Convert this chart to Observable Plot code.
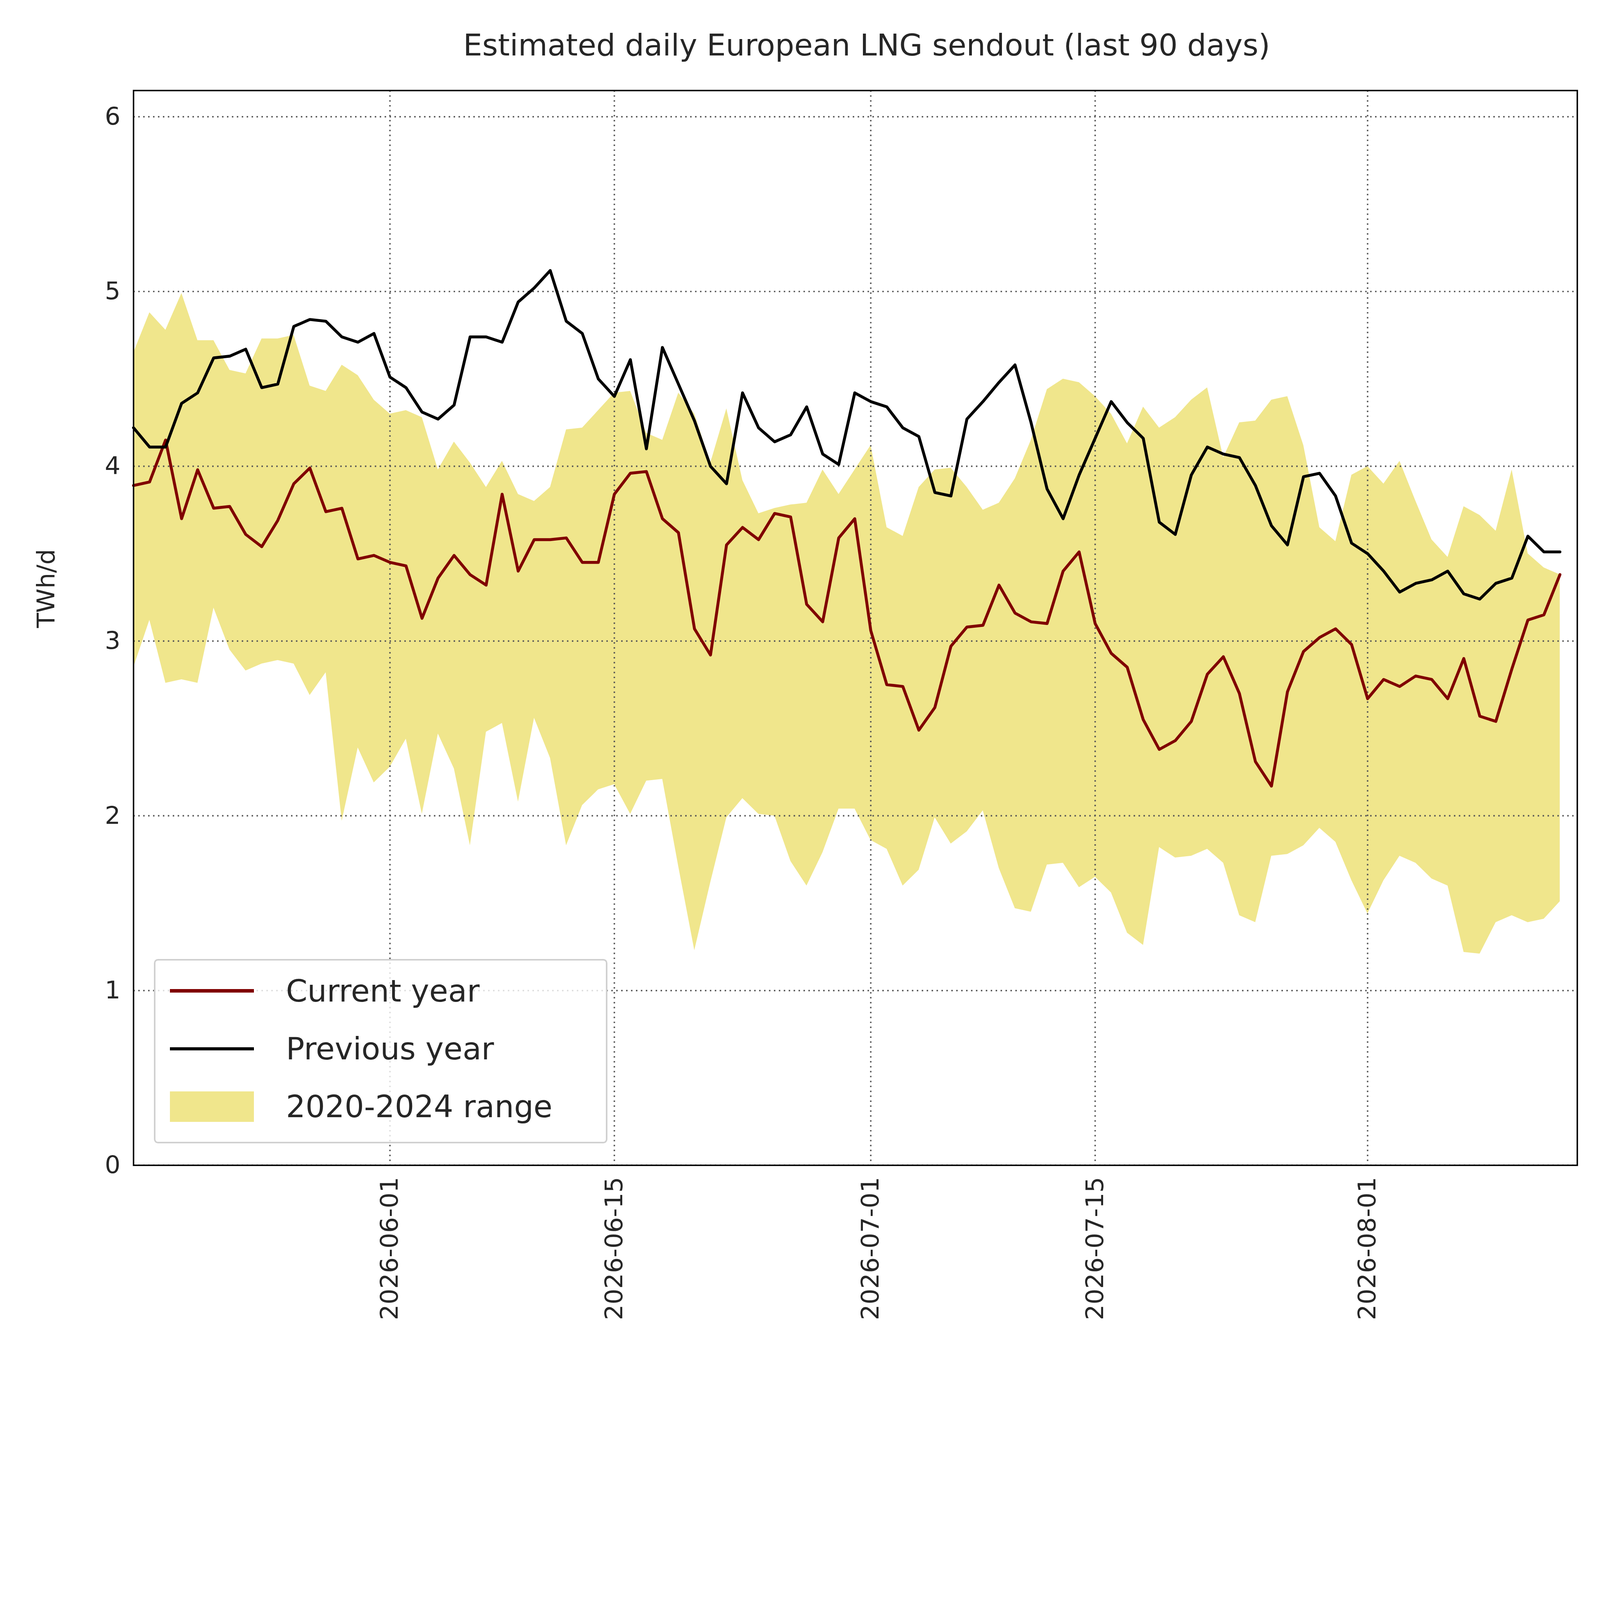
<!DOCTYPE html>
<html><head><meta charset="utf-8">
<script src="https://cdn.jsdelivr.net/npm/d3@7"></script>
<script src="https://cdn.jsdelivr.net/npm/@observablehq/plot@0.6"></script>
<style>
html,body{margin:0;background:#fff;font-family:"DejaVu Sans",sans-serif;overflow:hidden;}
#wrap{position:relative;}
#title{text-align:center;color:#262626;box-sizing:border-box;}
#legend{position:absolute;border-style:solid;border-color:#d0d0d0;background:rgba(255,255,255,0.8);box-sizing:border-box;color:#262626;}
.row{position:absolute;display:flex;align-items:center;}
</style></head><body>
<div id="wrap"><div id="title">Estimated daily European LNG sendout (last 90 days)</div><div id="chart"></div>
<div id="legend">
<div class="row"><div class="sw" style="background:#800000"></div>Current year</div>
<div class="row"><div class="sw" style="background:#000"></div>Previous year</div>
<div class="row"><div class="sw" style="background:#F0E68C"></div>2020-2024 range</div>
</div></div>
<script>
const startDate = "2026-05-16";
const current = [3.89,3.91,4.15,3.70,3.98,3.76,3.77,3.61,3.54,3.69,3.90,3.99,3.74,3.76,3.47,3.49,3.45,3.43,3.13,3.36,3.49,3.38,3.32,3.84,3.40,3.58,3.58,3.59,3.45,3.45,3.84,3.96,3.97,3.70,3.62,3.07,2.92,3.55,3.65,3.58,3.73,3.71,3.21,3.11,3.59,3.70,3.06,2.75,2.74,2.49,2.62,2.97,3.08,3.09,3.32,3.16,3.11,3.10,3.40,3.51,3.10,2.93,2.85,2.55,2.38,2.43,2.54,2.81,2.91,2.70,2.31,2.17,2.71,2.94,3.02,3.07,2.98,2.67,2.78,2.74,2.80,2.78,2.67,2.90,2.57,2.54,2.84,3.12,3.15,3.38];
const previous = [4.22,4.11,4.11,4.36,4.42,4.62,4.63,4.67,4.45,4.47,4.80,4.84,4.83,4.74,4.71,4.76,4.51,4.45,4.31,4.27,4.35,4.74,4.74,4.71,4.94,5.02,5.12,4.83,4.76,4.50,4.40,4.61,4.10,4.68,4.47,4.26,4.00,3.90,4.42,4.22,4.14,4.18,4.34,4.07,4.01,4.42,4.37,4.34,4.22,4.17,3.85,3.83,4.27,4.37,4.48,4.58,4.25,3.87,3.70,3.95,4.16,4.37,4.25,4.16,3.68,3.61,3.95,4.11,4.07,4.05,3.89,3.66,3.55,3.94,3.96,3.83,3.56,3.50,3.40,3.28,3.33,3.35,3.40,3.27,3.24,3.33,3.36,3.60,3.51,3.51];
const rangeHigh = [4.65,4.88,4.78,4.99,4.72,4.72,4.55,4.53,4.73,4.73,4.75,4.46,4.43,4.58,4.52,4.38,4.30,4.32,4.28,3.98,4.14,4.02,3.88,4.03,3.84,3.80,3.88,4.21,4.22,4.32,4.42,4.43,4.19,4.15,4.42,4.30,4.02,4.33,3.92,3.73,3.76,3.78,3.79,3.98,3.84,3.98,4.12,3.65,3.60,3.88,3.98,3.99,3.88,3.75,3.79,3.93,4.15,4.44,4.50,4.48,4.40,4.30,4.13,4.34,4.22,4.28,4.38,4.45,4.05,4.25,4.26,4.38,4.40,4.12,3.65,3.57,3.95,4.00,3.90,4.03,3.80,3.58,3.48,3.77,3.72,3.63,3.98,3.50,3.42,3.38];
const rangeLow = [2.85,3.12,2.76,2.78,2.76,3.19,2.95,2.83,2.87,2.89,2.87,2.69,2.82,1.97,2.39,2.19,2.28,2.44,2.01,2.47,2.27,1.83,2.48,2.53,2.08,2.56,2.33,1.83,2.06,2.15,2.18,2.01,2.20,2.21,1.71,1.23,1.62,1.99,2.10,2.01,2.00,1.74,1.60,1.79,2.04,2.04,1.86,1.81,1.60,1.69,1.99,1.84,1.91,2.03,1.70,1.47,1.45,1.72,1.73,1.59,1.65,1.56,1.33,1.26,1.82,1.76,1.77,1.81,1.73,1.43,1.39,1.77,1.78,1.83,1.93,1.85,1.63,1.44,1.63,1.77,1.73,1.64,1.60,1.22,1.21,1.39,1.43,1.39,1.41,1.51];
const xTicks = ["2026-06-01","2026-06-15","2026-07-01","2026-07-15","2026-08-01"];
const yTicks = [0,1,2,3,4,5,6];

// scale everything to the actual viewport (design basis 5520 x 4906)
const s = Math.min(window.innerWidth/5520, window.innerHeight/4906);
const px = v => v*s;
const titleEl = document.getElementById("title");
titleEl.style.height = px(250)+"px";
titleEl.style.lineHeight = px(310)+"px";
titleEl.style.fontSize = px(104)+"px";
titleEl.style.paddingLeft = px(460)+"px";
titleEl.style.width = px(5520)+"px";
const lg = document.getElementById("legend");
Object.assign(lg.style,{left:px(531)+"px", top:px(3308)+"px", width:px(1564)+"px", height:px(637)+"px",
  borderWidth:px(6)+"px", borderRadius:px(14)+"px", fontSize:px(106)+"px"});
const rows = lg.querySelectorAll(".row");
const swH = [11,11,105];
rows.forEach((r,i)=>{
  r.style.left = px(50)+"px"; r.style.top = px(40 + i*200)+"px"; r.style.height = px(130)+"px";
  const sw = r.querySelector(".sw");
  sw.style.width = px(290)+"px"; sw.style.height = px(swH[i])+"px"; sw.style.marginRight = px(110)+"px";
});

const t0 = new Date(startDate + "T00:00:00Z");
const data = current.map((v,i)=>({date:new Date(+t0 + i*864e5), cur:v, prev:previous[i], lo:rangeLow[i], hi:rangeHigh[i]}));
const tickDates = xTicks.map(d=>new Date(d+"T00:00:00Z"));
const grid = {stroke:"#555", strokeOpacity:1, strokeWidth:px(5), strokeDasharray:`${px(5)},${px(12)}`};
const chart = Plot.plot({
  width:px(5520), height:px(4656), marginTop:px(61), marginBottom:px(887), marginLeft:px(460), marginRight:px(79),
  style:{fontSize:px(85)+"px", fontFamily:"DejaVu Sans, sans-serif", color:"#262626", background:"#fff", maxWidth:"none"},
  x:{type:"utc", domain:[t0, new Date("2026-08-14T02:00:00Z")]},
  y:{domain:[0,6.15]},
  marks:[
    Plot.areaY(data,{x:"date", y1:"lo", y2:"hi", fill:"#F0E68C"}),
    Plot.gridX(tickDates, grid),
    Plot.gridY(yTicks, grid),
    Plot.lineY(data,{x:"date", y:"cur", stroke:"#800000", strokeWidth:px(10)}),
    Plot.lineY(data,{x:"date", y:"prev", stroke:"#000", strokeWidth:px(10)}),
    Plot.frame({stroke:"#000", strokeWidth:px(5)}),
    Plot.axisX(tickDates,{tickSize:0, tickPadding:px(40), tickRotate:-90, tickFormat:d3.utcFormat("%Y-%m-%d"), label:null, fontSize:px(85)}),
    Plot.axisY(yTicks,{tickSize:0, tickPadding:px(45), tickFormat:d=>String(d), label:null, fontSize:px(85)}),
    Plot.text(["TWh/d"],{frameAnchor:"left", dx:-px(300), rotate:-90, fontSize:px(85)})
  ]
});
document.getElementById("chart").appendChild(chart);
</script></body></html>
